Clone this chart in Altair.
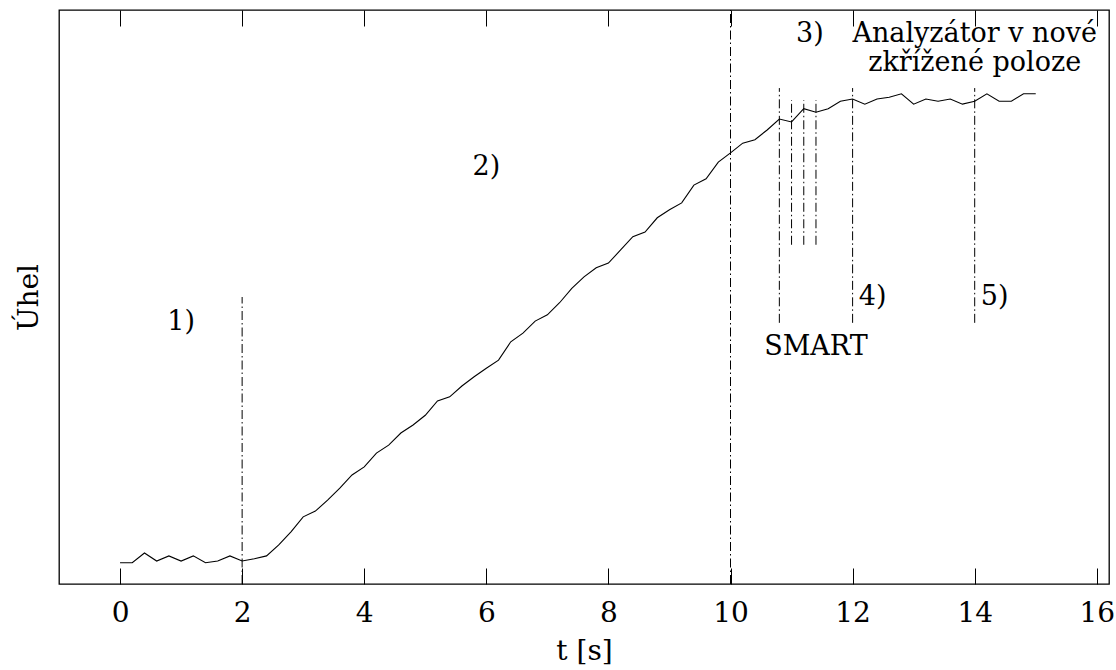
import altair as alt
import pandas as pd

# time samples [s]
t_vals = [0.0, 0.2, 0.4, 0.6, 0.8, 1.0, 1.2, 1.4, 1.6, 1.8, 2.0,
          2.2, 2.4, 2.6, 2.8, 3.0, 3.2, 3.4, 3.6, 3.8, 4.0,
          4.2, 4.4, 4.6, 4.8, 5.0, 5.2, 5.4, 5.6, 5.8, 6.0,
          6.2, 6.4, 6.6, 6.8, 7.0, 7.2, 7.4, 7.6, 7.8, 8.0,
          8.2, 8.4, 8.6, 8.8, 9.0, 9.2, 9.4, 9.6, 9.8, 10.0,
          10.2, 10.4, 10.6, 10.8, 11.0, 11.2, 11.4, 11.6, 11.8, 12.0,
          12.2, 12.4, 12.6, 12.8, 13.0, 13.2, 13.4, 13.6, 13.8, 14.0,
          14.2, 14.4, 14.6, 14.8, 15.0]
# angle (arbitrary units)
angle_vals = [3.7, 3.7, 5.4, 4.0, 4.9, 4.0, 4.9, 3.7, 4.0, 4.9, 4.0,
              4.4, 4.9, 6.8, 9.1, 11.7, 12.7, 14.6, 16.7, 19.0, 20.4,
              22.8, 24.2, 26.3, 27.7, 29.4, 31.9, 32.6, 34.5, 36.1, 37.6,
              39.0, 42.2, 43.7, 45.8, 46.9, 49.0, 51.5, 53.5, 55.1, 55.9,
              58.2, 60.5, 61.3, 63.8, 65.2, 66.4, 69.5, 70.6, 73.5, 75.1,
              76.8, 77.4, 79.1, 81.0, 80.5, 82.8, 82.2, 82.8, 84.1, 84.5,
              83.6, 84.5, 84.8, 85.4, 83.6, 84.5, 84.1, 84.5, 83.6, 84.1,
              85.4, 84.1, 84.1, 85.4, 85.4]

# dash-dot marker lines
vline_x = [2.0, 10.0, 10.8, 11.0, 11.2, 11.4, 12.0, 14.0]
vline_y0 = [0.0, 0.0, 45.5, 59.1, 59.1, 59.1, 45.5, 45.5]
vline_y1 = [50.0, 100.0, 86.4, 84.3, 84.3, 84.3, 86.4, 86.4]

# annotations (centered)
ann_c_text = ["1)", "2)", "3)", "SMART", "Analyzátor v nové\nzkřížené poloze"]
ann_c_x = [1.0, 6.0, 11.3, 11.4, 14.0]
ann_c_y = [45.6, 72.6, 95.9, 41.3, 95.9]
# annotations (left aligned)
ann_l_text = ["4)", "5)"]
ann_l_x = [12.1, 14.1]
ann_l_y = [50.0, 50.0]

tick_vals = [0, 2, 4, 6, 8, 10, 12, 14, 16]

FONT = "DejaVu Serif"

curve_df = pd.DataFrame({"t": t_vals, "a": angle_vals})
vline_df = pd.DataFrame({"t": vline_x, "y0": vline_y0, "y1": vline_y1})
annc_df = pd.DataFrame({"t": ann_c_x, "a": ann_c_y, "txt": ann_c_text})
annl_df = pd.DataFrame({"t": ann_l_x, "a": ann_l_y, "txt": ann_l_text})

xscale = alt.Scale(domain=[-1, 16.2], nice=False, zero=False)
yscale = alt.Scale(domain=[0, 100], nice=False, zero=False)

bottom_axis = alt.Axis(orient="bottom", values=tick_vals, offset=-16, tickSize=16,
                       domain=False, grid=False, labelFont=FONT, labelFontSize=28,
                       labelColor="black", labelPadding=15, labelFlush=False,
                       tickColor="black", tickWidth=1, format="d",
                       title="t [s]", titleFont=FONT, titleFontSize=28,
                       titleFontWeight="normal", titleColor="black", titlePadding=10)
top_axis = alt.Axis(orient="top", values=tick_vals, offset=-16, tickSize=16,
                    domain=False, grid=False, labels=False, title=None,
                    tickColor="black", tickWidth=1)

y_axis = alt.Axis(title="Úhel", labels=False, ticks=False, domain=False,
                  grid=False, titleFont=FONT, titleFontSize=28,
                  titleFontWeight="normal", titleColor="black", titlePadding=16)

curve = alt.Chart(curve_df).mark_line(color="black", strokeWidth=1.1).encode(
    x=alt.X("t:Q", scale=xscale, axis=bottom_axis),
    y=alt.Y("a:Q", scale=yscale, axis=y_axis),
)

rules = alt.Chart(vline_df).mark_rule(color="black", strokeWidth=1,
                                       strokeDash=[9, 3, 1.5, 3]).encode(
    x=alt.X("t:Q", scale=xscale, axis=top_axis),
    y=alt.Y("y0:Q", scale=yscale, axis=y_axis),
    y2="y1:Q",
)

txt_c = alt.Chart(annc_df).mark_text(font=FONT, fontSize=27, color="black",
                                     align="center", baseline="middle",
                                     lineBreak="\n", lineHeight=29).encode(
    x=alt.X("t:Q", scale=xscale, axis=None),
    y=alt.Y("a:Q", scale=yscale, axis=y_axis),
    text="txt:N",
)
txt_l = alt.Chart(annl_df).mark_text(font=FONT, fontSize=27, color="black",
                                     align="left", baseline="middle").encode(
    x=alt.X("t:Q", scale=xscale, axis=None),
    y=alt.Y("a:Q", scale=yscale, axis=y_axis),
    text="txt:N",
)

chart = alt.layer(curve, rules, txt_c, txt_l).resolve_axis(x="independent").properties(
    width=1050, height=574,
    background="white",
    autosize=alt.AutoSizeParams(type="none"),
    padding={"left": 59, "top": 10, "right": 7, "bottom": 86},
).configure_view(stroke="black", strokeWidth=1.3)

chart.save("out.html", embed_options={"renderer": "svg", "actions": False})
